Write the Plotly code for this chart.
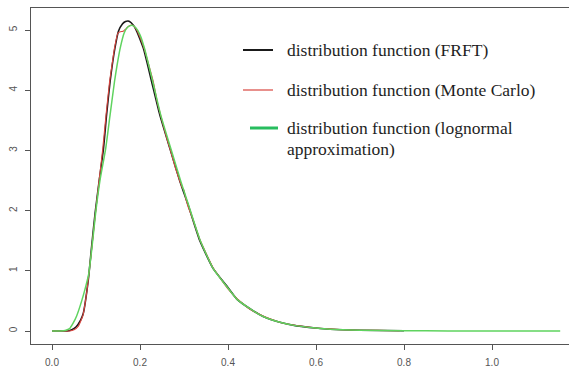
import plotly.graph_objects as go

# ---- data ----
frft_x = [0.00, 0.02, 0.035, 0.045, 0.055, 0.065, 0.071, 0.0825, 0.090, 0.098, 0.1075, 0.117,
          0.124, 0.132, 0.137, 0.143, 0.151, 0.160, 0.167, 0.173, 0.180, 0.190, 0.2075, 0.2265,
          0.245, 0.268, 0.291, 0.310, 0.336, 0.366, 0.397, 0.420, 0.450, 0.480, 0.520, 0.556,
          0.600, 0.632, 0.700, 0.800]
frft_y = [0.0, 0.0, 0.0, 0.02, 0.07, 0.18, 0.29, 0.85, 1.40, 1.96, 2.51, 3.03,
          3.59, 4.14, 4.42, 4.70, 4.98, 5.10, 5.14, 5.15, 5.12, 5.02, 4.70, 4.14,
          3.59, 3.03, 2.48, 2.08, 1.50, 1.04, 0.75, 0.53, 0.37, 0.24, 0.14, 0.085,
          0.05, 0.03, 0.012, 0.004]

mc_x = [0.00, 0.02, 0.040, 0.050, 0.060, 0.070, 0.080, 0.090, 0.098, 0.107, 0.115, 0.123,
        0.131, 0.136, 0.142, 0.150, 0.155, 0.162, 0.168, 0.176, 0.183, 0.190, 0.200, 0.210,
        0.220, 0.230, 0.240, 0.250, 0.260, 0.268, 0.280, 0.290, 0.296, 0.300, 0.304, 0.310,
        0.320, 0.336, 0.366, 0.400, 0.420, 0.450, 0.480, 0.500, 0.520, 0.556, 0.600, 0.632,
        0.660, 0.700, 0.740, 0.790]
mc_y = [0.0, 0.0, 0.0, 0.02, 0.08, 0.25, 0.70, 1.35, 1.90, 2.50, 3.00, 3.60,
        4.15, 4.40, 4.70, 4.95, 4.97, 4.98, 5.02, 5.07, 5.08, 5.03, 4.88, 4.68,
        4.42, 4.15, 3.78, 3.50, 3.22, 3.03, 2.72, 2.50, 2.38, 2.34, 2.20, 2.05,
        1.86, 1.52, 1.05, 0.70, 0.54, 0.36, 0.25, 0.19, 0.14, 0.09, 0.05, 0.035,
        0.02, 0.013, 0.01, 0.005]

logn_x = [0.00, 0.02, 0.030, 0.040, 0.048, 0.056, 0.0675, 0.077, 0.0835, 0.091, 0.099, 0.109,
          0.122, 0.132, 0.142, 0.148, 0.155, 0.164, 0.172, 0.181, 0.190, 0.200, 0.210, 0.229,
          0.247, 0.270, 0.293, 0.310, 0.336, 0.366, 0.397, 0.420, 0.450, 0.480, 0.520, 0.556,
          0.600, 0.632, 0.700, 0.800, 0.900, 1.000, 1.155]
logn_y = [0.0, 0.0, 0.01, 0.04, 0.13, 0.25, 0.50, 0.75, 0.95, 1.40, 1.95, 2.50,
          3.03, 3.59, 4.14, 4.42, 4.70, 4.95, 5.05, 5.08, 5.04, 4.92, 4.70, 4.14,
          3.59, 3.03, 2.48, 2.10, 1.52, 1.04, 0.74, 0.53, 0.37, 0.24, 0.14, 0.085,
          0.05, 0.03, 0.012, 0.004, 0.001, 0.0, 0.0]

x_ticks = [0.0, 0.2, 0.4, 0.6, 0.8, 1.0]
y_ticks = [0, 1, 2, 3, 4, 5]

legend_labels = ["distribution function (FRFT)",
                 "distribution function (Monte Carlo)",
                 "distribution function (lognormal",
                 "approximation)"]

BLACK = "#1a1a1a"
RED = "#d9453f"
GREEN_LINE = "#5fd35f"
GREEN_LEG = "#27bd5e"

fig = go.Figure()
fig.add_trace(go.Scatter(x=frft_x, y=frft_y, mode="lines",
                         line=dict(color=BLACK, width=1.6, shape="spline", smoothing=0.5),
                         showlegend=False))
fig.add_trace(go.Scatter(x=mc_x, y=mc_y, mode="lines",
                         line=dict(color=RED, width=1.1, shape="spline", smoothing=0.3),
                         showlegend=False))
fig.add_trace(go.Scatter(x=logn_x, y=logn_y, mode="lines",
                         line=dict(color=GREEN_LINE, width=1.5, shape="spline", smoothing=0.5),
                         showlegend=False))

# pixel -> data helpers for the hand-drawn legend
def px_x(p):
    return (p - 52) / 440.0

def px_y(p):
    return (331 - p) / 60.2

shapes = [
    dict(type="line", xref="x", yref="y", x0=px_x(243), x1=px_x(273), y0=px_y(50), y1=px_y(50),
         line=dict(color=BLACK, width=2)),
    dict(type="line", xref="x", yref="y", x0=px_x(243), x1=px_x(273), y0=px_y(90), y1=px_y(90),
         line=dict(color=RED, width=1.2)),
    dict(type="line", xref="x", yref="y", x0=px_x(250), x1=px_x(278), y0=px_y(128), y1=px_y(128),
         line=dict(color=GREEN_LEG, width=3)),
]
ann_pos = [(285, 50), (285, 90), (285, 128), (285, 149)]
annotations = []
for (px, py), txt in zip(ann_pos, legend_labels):
    annotations.append(dict(x=px_x(px), y=px_y(py), xref="x", yref="y", text=txt,
                            showarrow=False, xanchor="left", yanchor="middle",
                            font=dict(family="Liberation Serif", size=17.5, color="#1e1e1e")))

fig.update_layout(
    width=569, height=373,
    margin=dict(l=31, r=0, t=8, b=29, autoexpand=False),
    paper_bgcolor="white", plot_bgcolor="white",
    shapes=shapes, annotations=annotations,
    showlegend=False,
)
fig.update_xaxes(range=[px_x(31), px_x(569)], tickvals=x_ticks,
                 ticktext=[f"{v:.1f}" for v in x_ticks], automargin=False,
                 showgrid=False, zeroline=False, showline=True, mirror=True,
                 linecolor="#555", linewidth=1, ticks="outside", ticklen=5,
                 tickcolor="#555", ticklabelstandoff=4,
                 tickfont=dict(family="Liberation Sans", size=10, color="#555"))
fig.update_yaxes(range=[px_y(344), px_y(8)], tickvals=y_ticks,
                 ticktext=[str(v) for v in y_ticks], tickangle=-90, automargin=False,
                 showgrid=False, zeroline=False, showline=True, mirror=False,
                 linecolor="#555", linewidth=1, ticks="outside", ticklen=5,
                 tickcolor="#555", ticklabelstandoff=4,
                 tickfont=dict(family="Liberation Sans", size=10, color="#555"))

fig.write_html("out.html", config={"displayModeBar": False},
               post_script="document.body.style.margin='0';document.body.style.overflow='hidden';")
